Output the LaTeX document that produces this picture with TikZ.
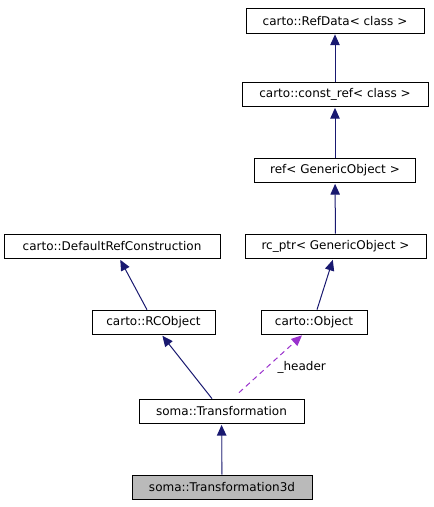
\documentclass[tikz,border=0pt]{standalone}
\usepackage{fontspec}
\setmainfont{DejaVu Sans}
\usetikzlibrary{arrows.meta}

\definecolor{edgeblue}{HTML}{191970}
\definecolor{edgepurple}{HTML}{9A32CD}

\tikzset{
	cls/.style={draw=black, line width=0.75pt, fill=white, minimum height=18.5pt, inner sep=0pt, font=\fontsize{9pt}{10pt}\selectfont},
	inh/.style={draw=edgeblue, line width=0.75pt, -{Triangle[length=8pt,width=7pt,color=edgeblue]}, shorten >=0.4pt},
	use/.style={draw=edgepurple, line width=0.75pt, dash pattern=on 4pt off 3pt, -{Triangle[length=8pt,width=7pt]}}
}

\begin{document}
\begin{tikzpicture}[x=0.75pt, y=-0.75pt]

	\useasboundingbox (0,0) rectangle (434,507);

	\node[cls, minimum width=133.5pt] (refdata) at (335,21) {carto::RefData< class >};
	\node[cls, minimum width=139.5pt] (constref) at (335,94.5) {carto::const\_ref< class >};
	\node[cls, minimum width=120.75pt] (refgo) at (335,170.5) {ref< GenericObject >};
	\node[cls, minimum width=135.75pt] (rcptr) at (335.5,246.5) {rc\_ptr< GenericObject >};
	\node[cls, minimum width=162pt] (defref) at (112,246.5) {carto::DefaultRefConstruction};
	\node[cls, minimum width=92.25pt] (rcobj) at (153.5,322.5) {carto::RCObject};
	\node[cls, minimum width=79.5pt] (object) at (314,322.5) {carto::Object};
	\node[cls, minimum width=123.75pt] (trans) at (221.5,411.5) {soma::Transformation};
	\node[cls, minimum width=135pt, fill=black!27] (trans3d) at (222,487.5) {soma::Transformation3d};

	\draw[inh] (constref) -- (refdata);
	\draw[inh] (refgo) -- (constref);
	\draw[inh] (rcptr) -- (refgo);
	\draw[inh] ([xshift=-4.9pt]rcobj.north) -- ([xshift=6pt]defref.south);
	\draw[inh] ([xshift=2.25pt]object.north) -- ([xshift=-1.9pt]rcptr.south);
	\draw[inh] ([xshift=-7.1pt]trans.north) -- ([xshift=6.4pt]rcobj.south);
	\draw[use] ([xshift=13.1pt, yshift=4.5pt]trans.north) -- ([xshift=-9pt]object.south)
		node[pos=0.45, right=4pt, text=black, font=\fontsize{9pt}{10pt}\selectfont] {\_header};
	\draw[inh, draw=edgeblue!65, line width=1pt] (trans3d) -- (trans);

\end{tikzpicture}
\end{document}
